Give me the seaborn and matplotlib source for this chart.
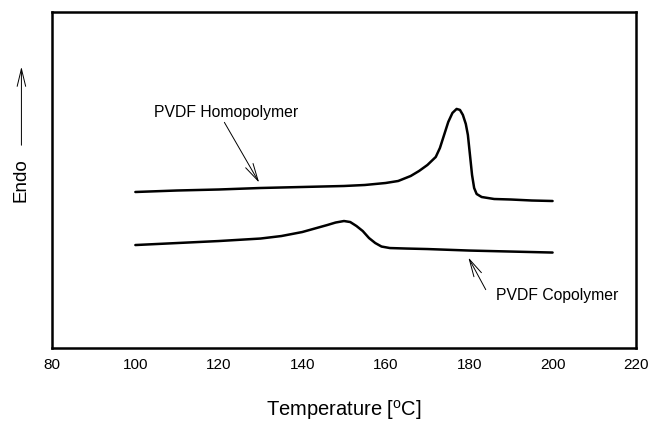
import numpy as np
import pandas as pd
import matplotlib
matplotlib.use("Agg")
import matplotlib.pyplot as plt
import seaborn as sns

sns.set_theme(style="white")
plt.rcParams['font.family'] = ['Liberation Sans', 'DejaVu Sans']
plt.rcParams['text.color'] = 'black'
plt.rcParams['axes.labelcolor'] = 'black'
plt.rcParams['xtick.color'] = 'black'

# DSC traces (heat flow in arbitrary units)
homo_temp = [100, 110, 120, 130, 140, 150, 155, 160, 163, 166, 168, 170, 172, 173, 174, 175,
             176, 177, 177.8, 178.5, 179.2, 179.7, 180.2, 180.7, 181.2, 181.8, 183, 186, 190, 195, 200]
homo_flow = [15.6, 15.75, 15.85, 16.0, 16.1, 16.2, 16.3, 16.5, 16.7, 17.2, 17.7, 18.3, 19.1, 20.0, 21.3, 22.6,
             23.5, 23.9, 23.8, 23.3, 22.4, 21.3, 19.3, 17.3, 16.0, 15.4, 15.1, 14.9, 14.85, 14.75, 14.7]

copo_temp = [100, 110, 120, 130, 135, 140, 143, 146, 148, 150, 151.5, 153, 154.5, 156, 157.5,
             159, 161, 165, 170, 180, 190, 200]
copo_flow = [10.3, 10.5, 10.7, 10.95, 11.2, 11.6, 11.95, 12.3, 12.55, 12.7, 12.6, 12.2, 11.7, 11.0, 10.5,
             10.15, 10.0, 9.95, 9.9, 9.75, 9.65, 9.55]

xticks = [80, 100, 120, 140, 160, 180, 200, 220]

df = pd.concat([
    pd.DataFrame({'T': homo_temp, 'flow': homo_flow, 'sample': 'PVDF Homopolymer'}),
    pd.DataFrame({'T': copo_temp, 'flow': copo_flow, 'sample': 'PVDF Copolymer'}),
])

fig = plt.figure(figsize=(6.49, 4.23), dpi=100)
ax = fig.add_axes([0.080, 0.177, 0.900, 0.795])

sns.lineplot(data=df, x='T', y='flow', units='sample', estimator=None, sort=False,
             color='black', linewidth=1.8, ax=ax)

ax.set_xlim(80, 220)
ax.set_ylim(0, 33.6)
ax.set_xticks(xticks)
ax.set_xticklabels([str(t) for t in xticks], fontsize=11)
ax.set_yticks([])
ax.tick_params(axis='x', direction='out', length=3, width=1, color='black', pad=4)
for s in ax.spines.values():
    s.set_visible(True)
    s.set_color('black')
    s.set_linewidth(1.8)

ax.set_xlabel('Temperature [$^{\\mathregular{o}}$C]', fontsize=14.5, labelpad=19)
ax.set_ylabel('')

# labels with arrows
head = '->,head_length=0.7,head_width=0.17'
arrow = dict(arrowstyle=head, color='black', lw=0.7, mutation_scale=18)
ax.text(104.4, 23.5, 'PVDF Homopolymer', fontsize=11.3, ha='left', va='center')
ax.annotate('', xy=(130, 16.3), xytext=(121, 22.8), arrowprops=arrow)
ax.text(186.4, 5.3, 'PVDF Copolymer', fontsize=11.3, ha='left', va='center')
ax.annotate('', xy=(179.5, 9.3), xytext=(184.3, 5.6), arrowprops=arrow)

# "Endo" label with upward arrow
fig.text(0.033, 1 - 180 / 423, 'Endo', rotation=90, fontsize=13.5, ha='center', va='center')
fig.add_artist(matplotlib.patches.FancyArrowPatch(
    (0.033, 1 - 148 / 423), (0.033, 1 - 64 / 423), transform=fig.transFigure,
    arrowstyle=head, color='black', lw=0.7, mutation_scale=18))

fig.savefig('out.png', dpi=100)
